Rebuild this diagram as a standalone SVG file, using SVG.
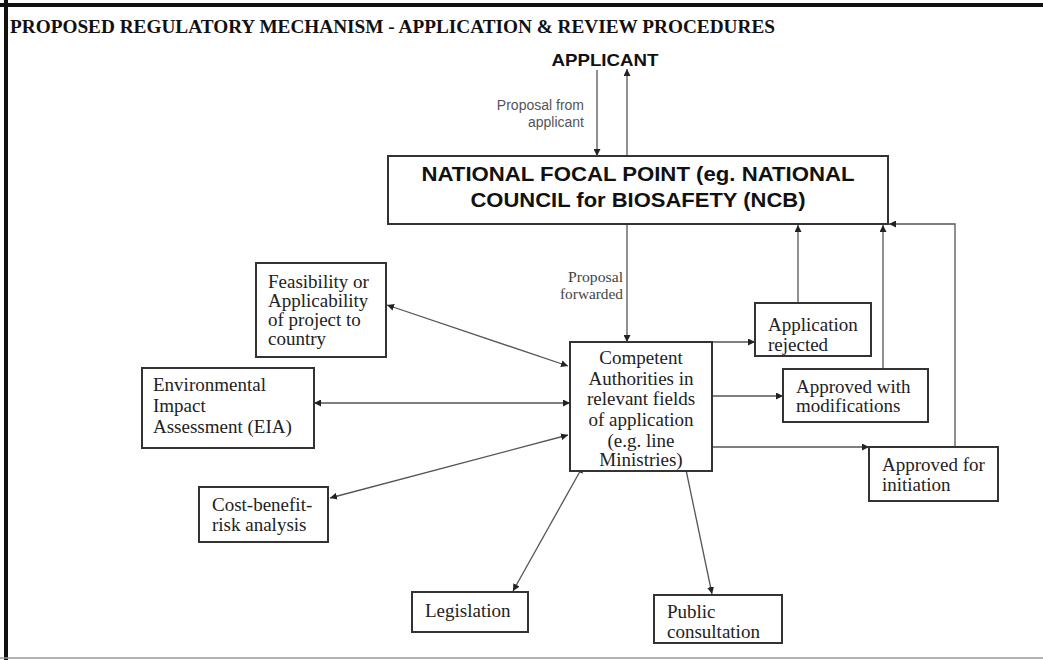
<svg xmlns="http://www.w3.org/2000/svg" width="1043" height="660" viewBox="0 0 1043 660">
<defs>
<marker id="ah" viewBox="0 0 10 10" refX="10" refY="5" markerWidth="7" markerHeight="7" orient="auto-start-reverse" markerUnits="userSpaceOnUse">
<path d="M0,0 L10,5 L0,10 z" fill="#222"/>
</marker>
<style>
.box{fill:#fff;stroke:#333;stroke-width:2}
.t{font-family:"Liberation Serif","Times New Roman",serif;font-size:19px;fill:#222}
.c{stroke:#555;stroke-width:1.3;fill:none}
.a{marker-end:url(#ah)}
.b{marker-start:url(#ah);marker-end:url(#ah)}
.s{font-family:"Liberation Sans",Arial,sans-serif;font-size:14px;fill:#555}
.sf{font-family:"Liberation Serif","Times New Roman",serif;font-size:15px;fill:#444}
</style>
</defs>
<rect x="0" y="0" width="1043" height="660" fill="#fff"/>
<line x1="0" y1="5" x2="1043" y2="5" stroke="#111" stroke-width="4"/>
<line x1="6" y1="0" x2="6" y2="660" stroke="#111" stroke-width="4"/>
<line x1="0" y1="658" x2="1043" y2="658" stroke="#999" stroke-width="1.5"/>
<text x="10" y="33" font-family="Liberation Serif, serif" font-weight="bold" font-size="18" fill="#111" textLength="765" lengthAdjust="spacingAndGlyphs">PROPOSED REGULATORY MECHANISM - APPLICATION &amp; REVIEW PROCEDURES</text>

<g id="connectors">
<line class="c a" x1="597" y1="70" x2="597" y2="156"/>
<line class="c a" x1="627" y1="156" x2="627" y2="69"/>
<line class="c a" x1="627" y1="225" x2="627" y2="342"/>
<line class="c b" x1="387" y1="305" x2="568" y2="366"/>
<line class="c b" x1="314" y1="403" x2="570" y2="403"/>
<line class="c b" x1="330" y1="498" x2="568" y2="435"/>
<line class="c b" x1="583" y1="466" x2="513" y2="591"/>
<line class="c b" x1="685" y1="465" x2="712" y2="594"/>
<line class="c a" x1="712" y1="342" x2="755" y2="342"/>
<line class="c a" x1="712" y1="396" x2="783" y2="396"/>
<line class="c a" x1="712" y1="447" x2="869" y2="447"/>
<line class="c a" x1="798" y1="303" x2="798" y2="225"/>
<line class="c a" x1="883" y1="369" x2="883" y2="225"/>
<polyline class="c a" points="955,447 955,224 889,224"/>
</g>

<g id="applicant">
<text x="605" y="66" text-anchor="middle" font-family="Liberation Sans, Arial, sans-serif" font-weight="bold" font-size="17" fill="#111" textLength="107" lengthAdjust="spacingAndGlyphs">APPLICANT</text>
</g>
<g id="label-proposal-from">
<text class="s" x="584" y="110" text-anchor="end">Proposal from</text>
<text class="s" x="584" y="127" text-anchor="end">applicant</text>
</g>
<g id="label-proposal-forwarded">
<text class="sf" x="623" y="282" text-anchor="end" textLength="55" lengthAdjust="spacingAndGlyphs">Proposal</text>
<text class="sf" x="623" y="299" text-anchor="end" textLength="63" lengthAdjust="spacingAndGlyphs">forwarded</text>
</g>

<g id="ncb">
<rect class="box" x="388" y="156" width="500" height="68"/>
<text x="638" y="181" text-anchor="middle" font-family="Liberation Sans, Arial, sans-serif" font-weight="bold" font-size="20" fill="#111" textLength="433" lengthAdjust="spacingAndGlyphs">NATIONAL FOCAL POINT (eg. NATIONAL</text>
<text x="638" y="207" text-anchor="middle" font-family="Liberation Sans, Arial, sans-serif" font-weight="bold" font-size="20" fill="#111" textLength="335" lengthAdjust="spacingAndGlyphs">COUNCIL for BIOSAFETY (NCB)</text>
</g>

<g id="feasibility">
<rect class="box" x="256" y="263" width="130" height="94"/>
<text class="t" x="268" y="288">Feasibility or</text>
<text class="t" x="268" y="307">Applicability</text>
<text class="t" x="268" y="326">of project to</text>
<text class="t" x="268" y="345">country</text>
</g>

<g id="eia">
<rect class="box" x="142" y="368" width="172" height="80"/>
<text class="t" x="153" y="391">Environmental</text>
<text class="t" x="153" y="412">Impact</text>
<text class="t" x="153" y="433">Assessment (EIA)</text>
</g>

<g id="cost">
<rect class="box" x="199" y="487" width="129" height="55"/>
<text class="t" x="212" y="511">Cost-benefit-</text>
<text class="t" x="212" y="531">risk analysis</text>
</g>

<g id="competent">
<rect class="box" x="570" y="342" width="142" height="129"/>
<text class="t" x="641" y="364" text-anchor="middle">Competent</text>
<text class="t" x="641" y="385" text-anchor="middle">Authorities in</text>
<text class="t" x="641" y="405" text-anchor="middle">relevant fields</text>
<text class="t" x="641" y="426" text-anchor="middle">of application</text>
<text class="t" x="641" y="447" text-anchor="middle">(e.g. line</text>
<text class="t" x="641" y="466" text-anchor="middle">Ministries)</text>
</g>

<g id="rejected">
<rect class="box" x="755" y="303" width="116" height="53"/>
<text class="t" x="768" y="331">Application</text>
<text class="t" x="768" y="351">rejected</text>
</g>

<g id="modifications">
<rect class="box" x="783" y="369" width="145" height="53"/>
<text class="t" x="796" y="393">Approved with</text>
<text class="t" x="796" y="412">modifications</text>
</g>

<g id="initiation">
<rect class="box" x="869" y="447" width="129" height="54"/>
<text class="t" x="882" y="471">Approved for</text>
<text class="t" x="882" y="491">initiation</text>
</g>

<g id="legislation">
<rect class="box" x="412" y="592" width="116" height="40"/>
<text class="t" x="425" y="617">Legislation</text>
</g>

<g id="public">
<rect class="box" x="654" y="595" width="128" height="48"/>
<text class="t" x="667" y="618">Public</text>
<text class="t" x="667" y="638">consultation</text>
</g>
</svg>
